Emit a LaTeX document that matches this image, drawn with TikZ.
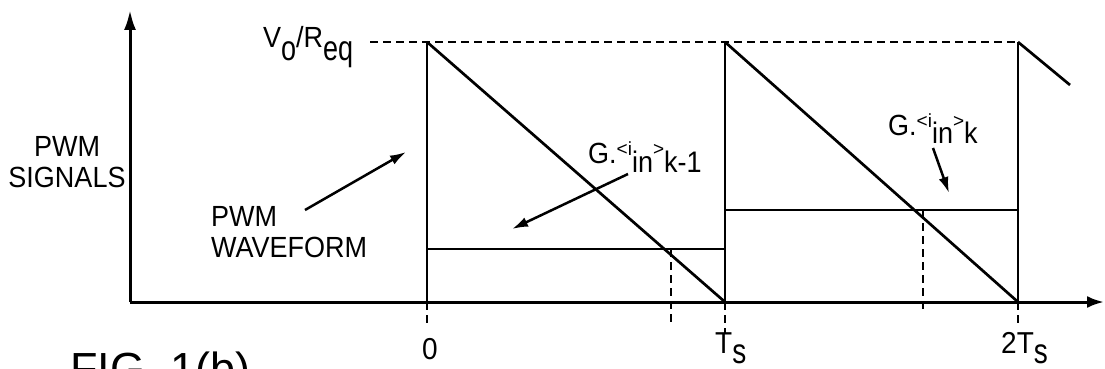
\documentclass[tikz,border=0pt]{standalone}
\usepackage{fontspec}
\usepackage{graphicx}
\setmainfont{Liberation Sans}
\usetikzlibrary{arrows.meta}
\newcommand\tall[1]{\scalebox{1}[1.08]{#1}}
\newcommand\lsub[1]{\raisebox{-13pt}{\scalebox{1}[1.3]{#1}}}
\newcommand\tsub[1]{\raisebox{-10pt}{\scalebox{1}[1.25]{#1}}}
\newcommand\gsup[1]{\raisebox{8pt}{\fontsize{19}{19}\selectfont #1}}
\newcommand\gsub[1]{\raisebox{-9pt}{\scalebox{1}[1.1]{#1}}}
\begin{document}
\begin{tikzpicture}[x=1pt,y=-1pt,
  axis/.style={line width=3pt},
  wave/.style={line width=2.7pt},
  dashln/.style={line width=2.4pt, dash pattern=on 8pt off 5pt},
  lbl/.style={font=\fontsize{27}{28}\selectfont, inner sep=0pt},
  tlbl/.style={font=\fontsize{28}{30}\selectfont, inner sep=0pt, anchor=base},
  ptr/.style={line width=2.5pt, -{Latex[length=16pt,width=10pt]}}
]
\useasboundingbox (0,0) rectangle (1105,369);
\clip (0,0) rectangle (1105,369);
% axes
\coordinate (O) at (130,302);
\coordinate (ytip) at (130,10);
\coordinate (xtip) at (1104,302);
\draw[axis, -{Latex[length=20pt,width=12pt]}] (O) -- (ytip);
\draw[axis, -{Latex[length=17pt,width=12pt]}] (O) -- (xtip);
% sawtooth
\coordinate (t0) at (427,302); \coordinate (t0top) at (427,42);
\coordinate (t1) at (725,302); \coordinate (t1top) at (725,42);
\coordinate (t2) at (1018,302); \coordinate (t2top) at (1018,42);
\coordinate (tail) at (1070,85);
\draw[wave] (t0) -- (t0top);
\draw[wave] (t0top) -- (t1);
\draw[wave] (t1) -- (t1top);
\draw[wave] (t1top) -- (t2);
\draw[wave] (t2) -- (t2top);
\draw[wave] (t2top) -- (tail);
% levels
\coordinate (l1a) at (427,249); \coordinate (l1b) at (725,249);
\coordinate (l2a) at (725,210); \coordinate (l2b) at (1018,210);
\draw[wave] (l1a) -- (l1b);
\draw[wave] (l2a) -- (l2b);
% dashed lines
\coordinate (dstart) at (370,42);
\draw[dashln] (dstart) -- (t2top);
\coordinate (c1) at (671,249); \coordinate (c1b) at (671,325);
\coordinate (c2) at (923,210); \coordinate (c2b) at (923,312);
\draw[dashln] (c1) -- (c1b);
\draw[dashln] (c2) -- (c2b);
\coordinate (t0b) at (427,325); \coordinate (t1b) at (725,333); \coordinate (t2b) at (1018,323);
\draw[dashln] (t0) -- (t0b);
\draw[dashln] (t1) -- (t1b);
\draw[dashln] (t2) -- (t2b);
% time labels
\node[tlbl] (l0) at (430,359) {\tall{0}};
\node[tlbl, anchor=base west] (lTs) at (715,353) {\tall{T}\tsub{s}};
\node[tlbl, anchor=base west] (l2Ts) at (1001,353) {\tall{2T}\tsub{s}};
% level label
\node[lbl, anchor=base west] (vr) at (263,48) {\tall{V}\lsub{o}\tall{/R}\lsub{eq}};
% y axis label
\node[lbl, anchor=base] (ylab) at (67,187) {\tall{\begin{tabular}[b]{@{}c@{}}PWM\\SIGNALS\end{tabular}}};
% waveform label
\node[lbl, anchor=base west] (wf) at (211,257) {\tall{\begin{tabular}[b]{@{}l@{}}PWM\\WAVEFORM\end{tabular}}};
\coordinate (wfs) at (305,210); \coordinate (wft) at (406,152);
\draw[ptr] (wfs) -- (wft);
% G labels
\node[lbl, anchor=base west] (g1) at (588,163) {\tall{G.}\gsup{<i}\gsub{in}\gsup{>}\gsub{k-1}};
\coordinate (g1s) at (628,174); \coordinate (g1t) at (512,229);
\draw[ptr] (g1s) -- (g1t);
\node[lbl, anchor=base west] (g2) at (888,135) {\tall{G.}\gsup{<i}\gsub{in}\gsup{>}\gsub{k}};
\coordinate (g2s) at (933,148); \coordinate (g2t) at (949,193);
\draw[ptr] (g2s) -- (g2t);
% caption
\node[inner sep=0pt, anchor=base west, font=\fontsize{45}{47}\selectfont] (fig) at (70,384) {FIG. 1(b)};
\end{tikzpicture}
\end{document}
